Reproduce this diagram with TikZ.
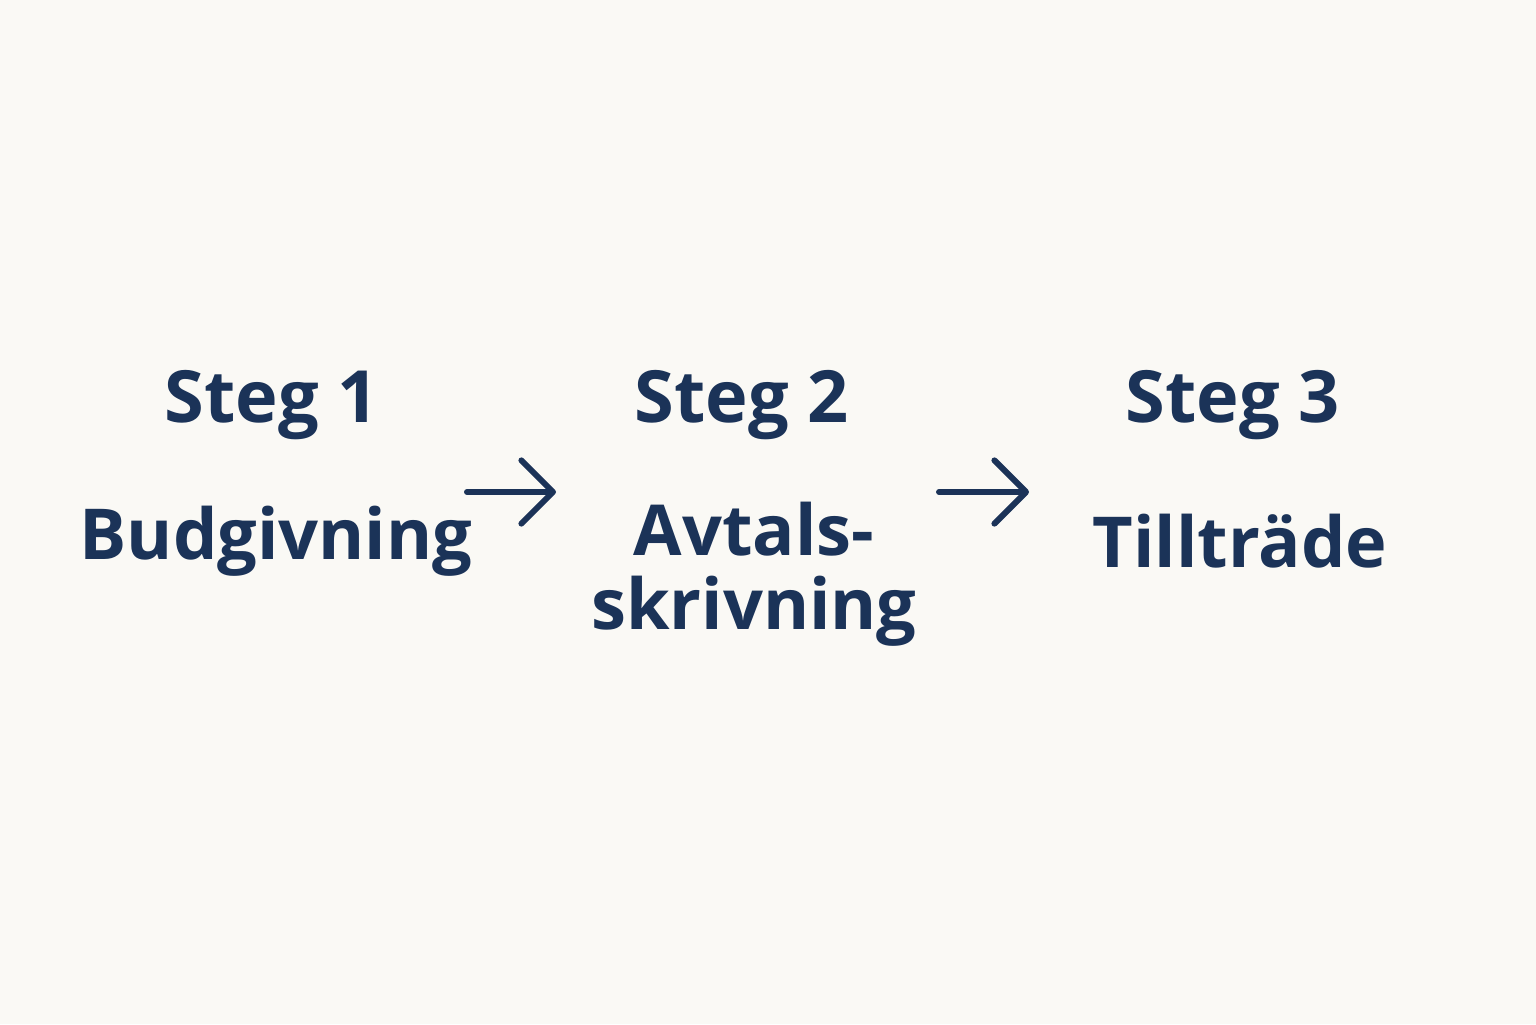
\documentclass[tikz,border=0pt]{standalone}
\usepackage{fontspec}
\setmainfont{Open Sans}
\usetikzlibrary{arrows.meta}
\definecolor{bg}{HTML}{FAF9F5}
\definecolor{navy}{HTML}{1B3358}
\begin{document}
\begin{tikzpicture}[x=1cm,y=1cm,
  title/.style={text=navy,font=\fontsize{20.5}{24}\selectfont\bfseries,inner sep=0pt},
  label/.style={text=navy,font=\fontsize{20}{23}\selectfont\bfseries,inner sep=0pt,align=center},
  flow/.style={draw=navy,line width=1.7pt,line cap=round,-{Straight Barb[length=9pt,width=18pt,line cap=round,line join=round]}}]
\fill[bg] (0,0) rectangle (15.36,10.24);
\useasboundingbox (0,0) rectangle (15.36,10.24);
\node[title] (s1) at (2.72,6.19) {Steg 1};
\node[title] (s2) at (7.42,6.19) {Steg 2};
\node[title] (s3) at (12.33,6.19) {Steg 3};
\node[label] (b1) at (2.76,4.83) {Budgivning};
\node[label] (b2) at (7.54,4.5) {Avtals-\\[-2pt]skrivning};
\node[label] (b3) at (12.40,4.83) {Tillträde};
\coordinate (a1s) at (4.67,5.32); \coordinate (a1e) at (5.56,5.32);
\coordinate (a2s) at (9.39,5.32); \coordinate (a2e) at (10.29,5.32);
\draw[flow] (a1s) -- (a1e);
\draw[flow] (a2s) -- (a2e);
\end{tikzpicture}
\end{document}
